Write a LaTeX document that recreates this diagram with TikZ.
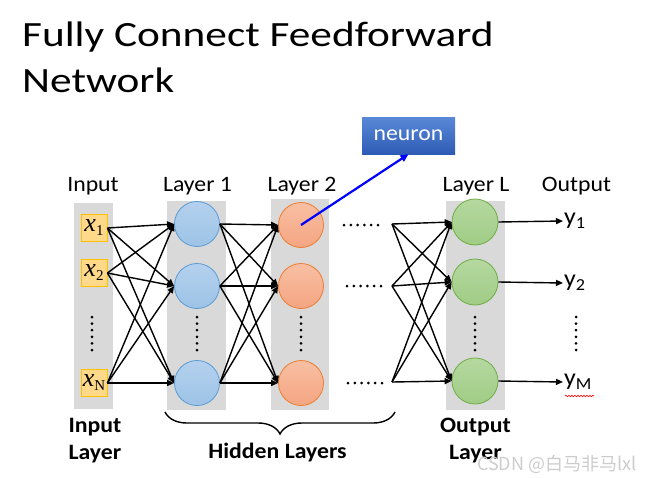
\documentclass[tikz,border=0pt]{standalone}
\usepackage{fontspec}
\setmainfont[FakeStretch=1.08]{Carlito}
\newfontfamily\titlefont[FakeStretch=1.22]{Carlito}
\newfontfamily\xser{Liberation Serif}
\newfontfamily\cjk{Noto Sans CJK SC}
\usetikzlibrary{arrows.meta,decorations.pathreplacing,decorations.pathmorphing}
\definecolor{colgray}{HTML}{D9D9D9}
\definecolor{bluefill}{HTML}{9DC3E6}
\definecolor{bluefilltop}{HTML}{B4D1EE}
\definecolor{blueline}{HTML}{5B9BD5}
\definecolor{orfill}{HTML}{F4A582}
\definecolor{orfilltop}{HTML}{F8BFA3}
\definecolor{orline}{HTML}{ED7D31}
\definecolor{grfill}{HTML}{A0CC85}
\definecolor{grfilltop}{HTML}{B5D8A0}
\definecolor{grline}{HTML}{70AD47}
\definecolor{yelfill}{HTML}{FFD98A}
\definecolor{yelline}{HTML}{FFC000}
\definecolor{neutop}{HTML}{5A88D8}
\definecolor{neubot}{HTML}{2E5CB5}
\newcommand{\xin}[1]{{\xser\fontsize{26}{26}\selectfont\itshape x}{\xser\fontsize{15}{15}\selectfont\raisebox{-4pt}{#1}}}
\tikzset{
  arr/.style={line width=1.4pt,-{Triangle[length=7pt,width=6pt]}},
  inbox/.style={rectangle,draw=yelline,line width=0.8pt,fill=yelfill,minimum width=26pt,minimum height=27pt,inner sep=0pt},
  neu/.style={circle,minimum size=45pt,inner sep=0pt,line width=0.8pt},
  bneu/.style={neu,draw=blueline,top color=bluefilltop,bottom color=bluefill},
  oneu/.style={neu,draw=orline,top color=orfilltop,bottom color=orfill},
  gneu/.style={neu,draw=grline,top color=grfilltop,bottom color=grfill},
  lab/.style={font=\fontsize{22}{22}\selectfont,inner sep=0pt,anchor=base},
  blab/.style={font=\fontsize{22}{22}\selectfont\bfseries,inner sep=0pt,anchor=base},
  ylab/.style={font=\fontsize{24}{24}\selectfont,inner sep=1pt,anchor=west},
  ttl/.style={font=\titlefont\fontsize{35.5}{35.5}\selectfont,inner sep=0pt,anchor=base west},
}
\begin{document}
\begin{tikzpicture}[x=1pt,y=-1pt]
\useasboundingbox (0,0) rectangle (648,477);
% title
\node[ttl] (title1) at (22,46) {Fully Connect Feedforward};
\node[ttl] (title2) at (22,92) {Network};
% gray columns
\fill[colgray] (74,203) rectangle (113,409);
\fill[colgray] (167,201) rectangle (226,410);
\fill[colgray] (271,199) rectangle (329,410);
\fill[colgray] (446,201) rectangle (505,410);
% inputs
\node[inbox] (x1) at (94,228) {\xin{1}};
\node[inbox] (x2) at (94,273) {\xin{2}};
\node[inbox] (xN) at (94,383) {\xin{N}};
% layer 1
\node[bneu] (a1) at (197,224) {};
\node[bneu] (a2) at (197,286) {};
\node[bneu] (a3) at (197,383) {};
% layer 2
\node[oneu] (b1) at (301,225) {};
\node[oneu] (b2) at (301,286) {};
\node[oneu] (b3) at (301,383) {};
% layer L
\coordinate (c1) at (392,224);
\coordinate (c2) at (392,286);
\coordinate (c3) at (392,382);
\node[gneu,minimum size=46pt] (d1) at (475,222) {};
\node[gneu,minimum size=46pt] (d2) at (475,282) {};
\node[gneu,minimum size=46pt] (d3) at (475,381) {};
% outputs
\node[ylab] (y1) at (563,221) {y\textsubscript{1}};
\node[ylab] (y2) at (563,283) {y\textsubscript{2}};
\node[ylab] (y3) at (563,382) {y\textsubscript{M}};
% connections
\foreach \s in {x1,x2,xN}{\foreach \t in {a1,a2,a3}{\draw[arr] (\s.east) -- (\t.west);}}
\foreach \s in {a1,a2,a3}{\foreach \t in {b1,b2,b3}{\draw[arr] (\s.east) -- (\t.west);}}
\foreach \s in {c1,c2,c3}{\foreach \t in {d1,d2,d3}{\draw[arr] (\s) -- (\t.west);}}
\draw[arr] (d1.east) -- (y1.west);
\draw[arr] (d2.east) -- (y2.west);
\draw[arr] (d3.east) -- (y3.west);
% dots
\foreach \xx in {92,197,301,475,576}{\foreach \i in {0,...,5}{\fill (\xx,317+\i*6.6) circle (1.5pt);}}
\foreach \yy/\xs in {225/344,286/347,383/348}{\foreach \i in {0,...,5}{\fill (\xs+\i*6.8,\yy) circle (1.5pt);}}
% layer labels
\node[lab] (lin) at (93,191) {Input};
\node[lab] (l1) at (197.5,191) {Layer 1};
\node[lab] (l2) at (302,191) {Layer 2};
\node[lab] (lL) at (476,191) {Layer L};
\node[lab] (lout) at (576.5,191) {Output};
% neuron
\node[rectangle,top color=neutop,bottom color=neubot,minimum width=93pt,minimum height=37pt,inner sep=0pt,text=white,font=\fontsize{22}{22}\selectfont] (neuron) at (408.5,135.5) {neuron};
\draw[blue,line width=2.2pt,-{Triangle[length=8pt,width=7pt]}] (b1.center) -- (neuron.south);
% brace
\draw[line width=1.4pt,decorate,decoration={brace,amplitude=22pt,aspect=0.5}] (395,412) -- (165,412);
% bottom labels
\node[blab] (inl1) at (95,432) {Input};
\node[blab] (inl2) at (95,459) {Layer};
\node[blab] (hid) at (277.5,458) {Hidden Layers};
\node[blab] (outl1) at (475.5,432) {Output};
\node[blab] (outl2) at (475.5,459) {Layer};
% spelling underline
\draw[red,line width=0.6pt,decorate,decoration={snake,amplitude=0.8pt,segment length=3pt}] (565,396) -- (594,396);
% watermark
\node[inner sep=0pt,anchor=west,text=gray!40,font=\cjk\fontsize{18}{18}\selectfont] (wm) at (477,464) {CSDN @白马非马lxl};
\end{tikzpicture}
\end{document}
